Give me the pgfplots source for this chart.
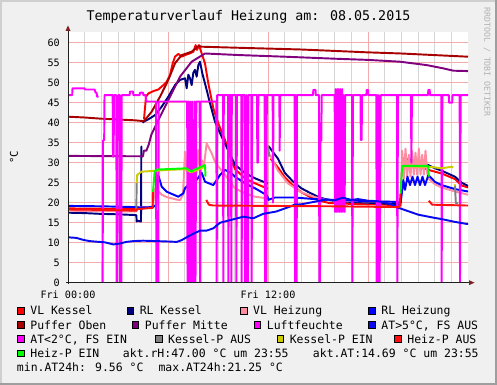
\documentclass[border=0pt]{standalone}
\usepackage{fontspec}
\setmainfont{DejaVu Sans Mono}
\usepackage{pgfplots}
\pgfplotsset{compat=1.18}
\definecolor{cVLK}{RGB}{255,0,0}
\definecolor{cRLK}{RGB}{0,0,128}
\definecolor{cVLH}{RGB}{255,140,160}
\definecolor{cRLH}{RGB}{0,0,255}
\definecolor{cPO}{RGB}{168,0,0}
\definecolor{cPM}{RGB}{128,0,128}
\definecolor{cLF}{RGB}{255,0,255}
\definecolor{cATa}{RGB}{10,10,240}
\definecolor{cATe}{RGB}{255,0,255}
\definecolor{cKA}{RGB}{128,128,128}
\definecolor{cKE}{RGB}{204,204,0}
\definecolor{cHA}{RGB}{255,16,16}
\definecolor{cHE}{RGB}{0,255,0}
\definecolor{bgc}{RGB}{240,240,240}
\definecolor{shA}{RGB}{207,207,207}
\definecolor{shB}{RGB}{158,158,158}
\definecolor{gridmaj}{RGB}{242,172,172}
\definecolor{gridmin}{RGB}{214,214,214}
\definecolor{axcol}{RGB}{31,31,31}
\definecolor{arcol}{RGB}{128,31,31}
\definecolor{wm}{RGB}{178,178,178}
\newcommand\tickfont{\fontsize{7.6}{9}\selectfont}
\newcommand\legfont{\fontsize{8.6}{10}\selectfont}
\newcommand\legsw[3]{\filldraw[fill=#3,draw=black,line width=0.5pt] (#1,#2-7.7) rectangle (#1+6.7,#2-1);}
\newcommand\legtx[3]{\node[anchor=base west,inner sep=0pt,font=\legfont] at (#1,#2) {#3};}
\begin{document}
\begin{tikzpicture}
\begin{scope}[x=0.75pt,y=-0.75pt]
\fill[bgc] (0,0) rectangle (497,385);
\fill[shA] (0,0) rectangle (497,2);
\fill[shA] (0,0) rectangle (2,385);
\fill[shB] (0,383) rectangle (497,385);
\fill[shB] (495,0) rectangle (497,385);
\end{scope}
\begin{axis}[
  at={(51pt,-212.025pt)}, anchor=south west,
  scale only axis, width=300pt, height=187.8pt,
  xmin=0, xmax=24, ymin=0, ymax=62.6,
  axis background/.style={fill=white},
  axis line style={draw=none},
  major tick length=0pt, minor tick length=0pt,
  xtick={0,6,12,18}, xticklabels={Fri 00:00,,Fri 12:00,},
  minor xtick={1,2,3,4,5,7,8,9,10,11,13,14,15,16,17,19,20,21,22,23},
  ytick={0,5,...,60},
  xmajorgrids, xminorgrids, ymajorgrids,
  major grid style={color=gridmaj, line width=0.75pt},
  minor grid style={color=gridmin, line width=0.75pt},
  /pgf/number format/assume math mode=true,
  xticklabel style={font=\tickfont, anchor=north, inner sep=0pt, yshift=-5.6pt},
  yticklabel style={font=\tickfont, anchor=east, inner sep=0pt, xshift=-6pt},
  unbounded coords=jump,
  every axis plot/.append style={no markers, line width=1.45pt, line join=round},
]
% VL Kessel
\addplot[cVLK] coordinates {(0,18.6)(1,18.5)(2,18.5)(3,18.4)(4.1,18.4)(4.5,18.5)(4.53,nan)(4.56,40.85)(4.68,46.5)(4.82,47.3)(5.12,47.9)(5.42,48.3)(5.72,49.4)(5.92,50.25)(6.12,51.9)(6.28,54.8)(6.42,56.5)(6.62,57.2)(6.82,56.5)(7.02,56.9)(7.32,57.35)(7.52,57.75)(7.66,59.4)(7.74,58.2)(7.86,59.4)(7.92,58.6)(8.22,54.8)(8.42,49.8)(8.72,43.6)(9.02,39.8)(9.42,35.7)(9.82,30.4)(10.02,28.4)(10.62,26.1)(11.22,24.85)(11.92,23.6)(12.0,23.5)(12.05,nan)(12.15,31.0)(12.6,28.8)(13.0,26.4)(13.5,24.3)(14.0,22.6)(14.5,21.5)(15.1,20.5)(15.7,19.9)(17,19.7)(19.9,19.4)(20.0,19.4)(20.03,nan)(20.06,30.3)(21.0,29.2)(21.62,28.2)(22.42,27.3)(23.22,25.9)(23.62,24.3)(24,23.8)};
% RL Kessel
\addplot[cRLK] coordinates {(0,17.5)(1,17.4)(2,17.2)(3,17.1)(4.1,16.9)(4.12,15.3)(4.16,15.5)(4.38,15.3)(4.40,34.0)(4.45,34.0)(4.46,nan)(4.47,40.0)(4.6,40.4)(4.8,40.8)(5.0,41.3)(5.22,41.9)(5.62,44.0)(6.02,46.5)(6.42,49.4)(6.72,50.7)(7.02,51.1)(7.12,48.6)(7.22,52.0)(7.32,51.1)(7.42,49.4)(7.52,52.5)(7.62,53.2)(7.72,51.5)(7.82,54.4)(7.92,55.25)(8.06,52.3)(8.32,48.2)(8.52,44.85)(8.82,40.25)(9.22,36.5)(9.62,33.0)(10.02,29.5)(10.62,27.4)(11.22,26.1)(11.92,24.9)(12.0,24.8)(12.01,nan)(12.02,34.2)(12.6,31.0)(13.0,27.5)(13.5,25.3)(14.0,23.6)(14.5,22.5)(15.1,21.3)(15.7,20.6)(16.5,20.3)(18,20.0)(19.8,19.6)(19.95,19.4)(19.97,nan)(20.05,31.1)(21.02,30.25)(21.62,29.4)(22.02,28.6)(22.42,28.0)(23.22,26.5)(23.62,25.0)(24,24.2)};
% VL Heizung
\addplot[cVLH] coordinates {(0,18.0)(2,17.9)(4.1,17.8)(4.15,18.8)(5.1,19.0)(5.2,23.5)(5.35,23.2)(5.62,22.0)(5.92,21.4)(6.5,20.8)(6.72,20.6)(6.9,22.0)(7.02,32.75)(7.12,28.0)(7.22,31.1)(7.32,27.0)(7.42,34.85)(7.52,28.0)(7.62,29.85)(7.72,27.5)(7.82,33.2)(7.92,28.5)(8.02,30.7)(8.15,29.0)(8.32,34.85)(8.62,32.35)(8.82,30.25)(9.0,29.2)(9.5,26.5)(10.02,23.6)(10.62,22.35)(11.22,21.5)(11.92,21.1)(12.0,21.0)(12.05,nan)(12.12,32.0)(12.6,28.0)(13.2,24.8)(14.0,22.6)(14.8,21.4)(15.5,20.7)(17,20.4)(19.8,20.2)(19.95,20.3)(20.05,33.0)(20.15,26.0)(20.25,33.5)(20.35,26.5)(20.45,32.0)(20.55,26.5)(20.65,33.0)(20.75,27.0)(20.85,32.5)(20.95,27.0)(21.05,33.5)(21.15,27.0)(21.25,32.0)(21.35,27.0)(21.45,33.0)(21.55,27.5)(21.62,26.1)(22.02,24.6)(22.42,23.8)(23.22,22.8)(24,22.0)};
% RL Heizung
\addplot[cRLH] coordinates {(0,19.2)(2,19.1)(4.1,18.9)(4.3,18.8)(5.1,18.9)(5.3,19.5)(5.35,26.5)(5.42,26.9)(5.62,24.0)(5.92,22.75)(6.62,21.5)(6.92,22.35)(7.02,23.6)(7.32,24.85)(7.52,26.5)(7.72,25.7)(8.02,27.5)(8.22,25.25)(8.72,24.4)(9.12,26.9)(9.42,28.2)(9.82,27.35)(10.02,26.5)(10.62,24.85)(11.22,23.6)(11.92,21.9)(12.0,21.2)(12.02,20.7)(12.4,21.3)(13.6,21.3)(14.8,20.9)(16.5,20.6)(18,20.4)(19.7,20.2)(19.96,19.85)(20.12,25.7)(20.22,23.2)(20.37,26.5)(20.52,24.4)(20.67,26.5)(20.82,24.4)(20.97,26.5)(21.12,24.4)(21.27,26.5)(21.42,24.4)(21.62,26.9)(22.02,25.2)(22.42,24.4)(23.22,23.4)(24,22.8)};
% Puffer Oben
\addplot[cPO] coordinates {(0,41.5)(1,41.3)(2,41.0)(3,40.8)(4.0,40.6)(4.52,40.4)(4.6,40.6)(5.02,42.75)(5.52,46.5)(6.02,50.7)(6.42,54.85)(6.82,56.9)(7.42,57.75)(7.78,59.0)(7.86,59.2)(8.0,59.0)(10.5,58.7)(14,58.3)(17.9,57.6)(20,57.3)(22,56.9)(24,56.5)};
% Puffer Mitte
\addplot[cPM] coordinates {(0,31.7)(2,31.65)(4.5,31.6)(4.55,33.0)(4.7,33.0)(4.85,34.6)(5.0,37.0)(5.52,41.5)(6.12,46.5)(6.72,51.5)(7.42,55.25)(8.22,57.3)(10.32,56.9)(13,56.5)(16,56.0)(18,55.7)(19.92,55.25)(21.52,54.4)(22.5,53.6)(23.12,53.0)(24,52.9)};
% Luftfeuchte
\addplot[cLF] coordinates {(0,46.9)(0.25,46.9)(0.27,48.6)(1.0,48.6)(1.02,48.3)(1.6,48.3)(1.65,47.5)(1.72,47.5)(1.74,46.5)(1.84,46.5)(1.9,nan)
(2.05,0)(2.08,0)(2.1,35.6)(2.17,35.6)(2.19,46.9)(2.68,46.9)(2.7,31.5)(2.74,31.5)(2.76,46.9)(2.9,46.9)(2.92,0)(2.95,0)(2.97,35.6)(3.0,35.6)(3.02,46.9)(3.1,46.9)(3.12,0)(3.2,0)(3.22,46.9)(3.7,46.9)(3.72,47.8)(3.9,47.8)(3.92,46.9)(4.3,46.9)(4.32,47.5)(4.5,47.5)(4.52,46.9)(4.65,46.9)(4.7,45.3)(5.28,45.3)(5.3,0)(5.42,0)(5.44,45.3)(7.15,45.3)(7.17,0)(7.22,45.3)(7.25,0)(7.3,0)(7.33,45.3)(7.4,0)(7.45,45.3)(7.52,0)(7.58,0)(7.6,45.3)(7.65,0)(7.7,45.3)(7.9,45.3)(7.92,0)(7.95,45.3)(8.9,45.3)(8.92,0)(8.95,46.9)(9.3,46.9)(9.32,0)(9.35,46.9)(9.6,46.9)(9.62,0)(9.66,46.9)(9.78,46.9)(9.8,0)(9.83,46.9)(10.08,46.9)(10.1,0)(10.14,46.9)(10.4,46.9)(10.42,0)(10.45,46.9)(10.6,46.9)(10.62,0)(10.68,0)(10.7,46.9)(10.74,0)(10.8,0)(10.82,46.9)(11.0,46.9)(11.02,0)(11.05,46.9)(11.34,46.9)(11.36,30)(11.4,30)(11.42,46.9)(11.8,46.9)(11.82,0)(11.86,46.9)(11.9,0)(11.93,46.9)(12.28,46.9)(12.3,20)(12.33,46.9)(12.68,46.9)(12.7,33)(12.73,46.9)(13.6,46.9)(13.62,0)(13.66,46.9)(13.68,0)(13.72,0)(13.74,46.9)(14.7,46.9)(14.72,48.2)(14.85,48.2)(14.87,46.9)(15.06,46.9)(15.08,0)(15.12,0)(15.14,35.5)(15.2,35.5)(15.22,46.9)(16.0,46.9)(16.02,17.7)(16.06,48.4)(16.1,17.7)(16.15,48.4)(16.2,17.7)(16.25,48.4)(16.3,17.7)(16.35,48.4)(16.4,17.7)(16.45,48.4)(16.5,17.7)(16.55,46.9)(16.6,17.7)(16.63,46.9)(17.04,46.9)(17.06,0)(17.1,46.9)(17.55,46.9)(17.57,35.7)(17.62,35.7)(17.64,46.9)(17.9,46.9)(17.92,48.2)(18.0,48.2)(18.02,46.9)(18.5,46.9)(18.52,0)(18.56,46.9)(18.6,0)(18.65,46.9)(18.7,0)(18.76,46.9)(19.74,46.9)(19.76,0)(19.8,46.9)(20.58,46.9)(20.6,30)(20.64,46.9)(21.6,46.9)(21.62,48.2)(21.7,48.2)(21.72,46.9)(22.4,46.9)(22.42,0)(22.46,46.9)(22.85,46.9)(22.87,45)(23.05,45)(23.07,46.9)(23.5,46.9)(23.52,0)(23.56,46.9)(24,46.9)};
% AT > 5 (outside temperature)
\addplot[cATa] coordinates {(0,11.35)(0.5,11.2)(0.92,10.7)(1.3,10.4)(1.72,10.25)(2.2,10.1)(2.5,9.8)(2.72,9.56)(3.12,9.8)(3.5,10.2)(3.92,10.4)(4.5,10.5)(5.32,10.4)(6.0,10.3)(6.52,10.2)(6.8,10.6)(7.12,11.35)(7.5,12.2)(7.92,13.0)(8.3,13.0)(8.72,13.6)(9.12,15.0)(9.5,15.4)(9.92,15.85)(10.52,16.5)(11.12,16.1)(11.7,17.2)(12.5,17.8)(13.3,19.0)(13.6,19.5)(14.0,19.6)(14.5,20.0)(15.0,20.4)(15.5,20.8)(16.0,20.6)(16.5,21.25)(17.0,20.7)(17.4,20.9)(18.0,20.5)(18.5,20.4)(19.0,20.1)(19.5,19.4)(19.72,18.9)(20.12,18.3)(21.02,17.0)(22.0,16.2)(22.42,15.9)(23.22,15.2)(23.92,14.69)(24,14.69)};
% Kessel-P AUS
\addplot[cKA] coordinates {(4.1,18.2)(4.12,24.9)(4.13,nan)(12.0,34.2)(12.08,31.5)(12.1,nan)(23.22,24.2)(23.27,19.9)(23.4,19.8)};
% Kessel-P EIN
\addplot[cKE] coordinates {(4.12,24.9)(4.15,26.9)(4.4,27.75)(5.3,28.0)(6.0,28.2)(7.1,28.4)(7.35,27.6)(7.6,27.9)(8.0,28.6)(8.2,29.0)(8.25,nan)(20.05,29.1)(21.62,29.0)(22.42,28.6)(23.02,29.0)(23.12,28.8)(23.14,nan)(23.2,24.6)(23.22,24.2)};
% Heiz-P AUS
\addplot[cHA] coordinates {(0,18.3)(2,18.2)(4.1,18.0)(4.15,18.4)(5.08,18.7)(5.1,22.7)(5.11,nan)(8.3,20.7)(8.45,19.5)(8.7,19.3)(12,19.2)(16,19.1)(19.9,18.9)(19.95,22.3)(19.96,nan)(21.65,20.5)(21.85,19.5)(23.9,19.3)(24,19.3)};
% Heiz-P EIN
\addplot[cHE] coordinates {(5.1,22.7)(5.2,27.8)(5.35,28.3)(6.0,28.4)(7.1,28.6)(7.4,27.8)(7.6,28.3)(8.0,29.0)(8.22,29.4)(8.25,26.5)(8.26,nan)(19.95,22.3)(20.05,29.2)(21.6,29.2)(21.65,26.5)};
\end{axis}
\begin{scope}[x=0.75pt,y=-0.75pt]
% axes
\draw[axcol,line width=0.75pt] (68,284) -- (68,30);
\fill[arcol] (65.5,31) -- (70.5,31) -- (68,25.5) -- cycle;
\draw[axcol,line width=0.75pt] (66,282.7) -- (470,282.7);
\fill[arcol] (469,280.2) -- (469,285.2) -- (474.5,282.7) -- cycle;
% title and labels
\node[font=\fontsize{10}{12}\selectfont] at (248.5,16.5) {Temperaturverlauf Heizung am: 08.05.2015};
\node[font=\fontsize{8}{9}\selectfont, rotate=90] at (14,157) {°C};
\node[font=\fontsize{6.2}{7}\selectfont, text=wm, rotate=-90] at (487,62) {RRDTOOL / TOBI OETIKER};
% legend row 1
\legsw{17.6}{315}{cVLK}\legtx{30.1}{315}{VL Kessel}
\legsw{127}{315}{cRLK}\legtx{139.5}{315}{RL Kessel}
\legsw{240.4}{315}{cVLH}\legtx{252.9}{315}{VL Heizung}
\legsw{368.7}{315}{cRLH}\legtx{381.2}{315}{RL Heizung}
% row 2
\legsw{17.6}{329.2}{cPO}\legtx{30.1}{329.2}{Puffer Oben}
\legsw{132.1}{329.2}{cPM}\legtx{144.6}{329.2}{Puffer Mitte}
\legsw{254.1}{329.2}{cLF}\legtx{266.6}{329.2}{Luftfeuchte}
\legsw{368.7}{329.2}{cATa}\legtx{381.2}{329.2}{AT>5°C, FS AUS}
% row 3
\legsw{17.6}{343.4}{cATe}\legtx{30.1}{343.4}{AT<2°C, FS EIN}
\legsw{155.4}{343.4}{cKA}\legtx{167.9}{343.4}{Kessel-P AUS}
\legsw{277}{343.4}{cKE}\legtx{289.5}{343.4}{Kessel-P EIN}
\legsw{394.6}{343.4}{cHA}\legtx{407.1}{343.4}{Heiz-P AUS}
% row 4
\legsw{17.6}{357.6}{cHE}\legtx{30.1}{357.6}{Heiz-P EIN}
\legtx{122.7}{357.6}{akt.rH:47.00 °C um 23:55}
\legtx{312.7}{357.6}{akt.AT:14.69 °C um 23:55}
% row 5
\legtx{16.7}{371.8}{min.AT24h: 9.56 °C}
\legtx{158.3}{371.8}{max.AT24h:21.25 °C}
\end{scope}
\pgfresetboundingbox
\path[use as bounding box] (0,0) rectangle (372.75pt,-288.75pt);
\end{tikzpicture}
\end{document}
